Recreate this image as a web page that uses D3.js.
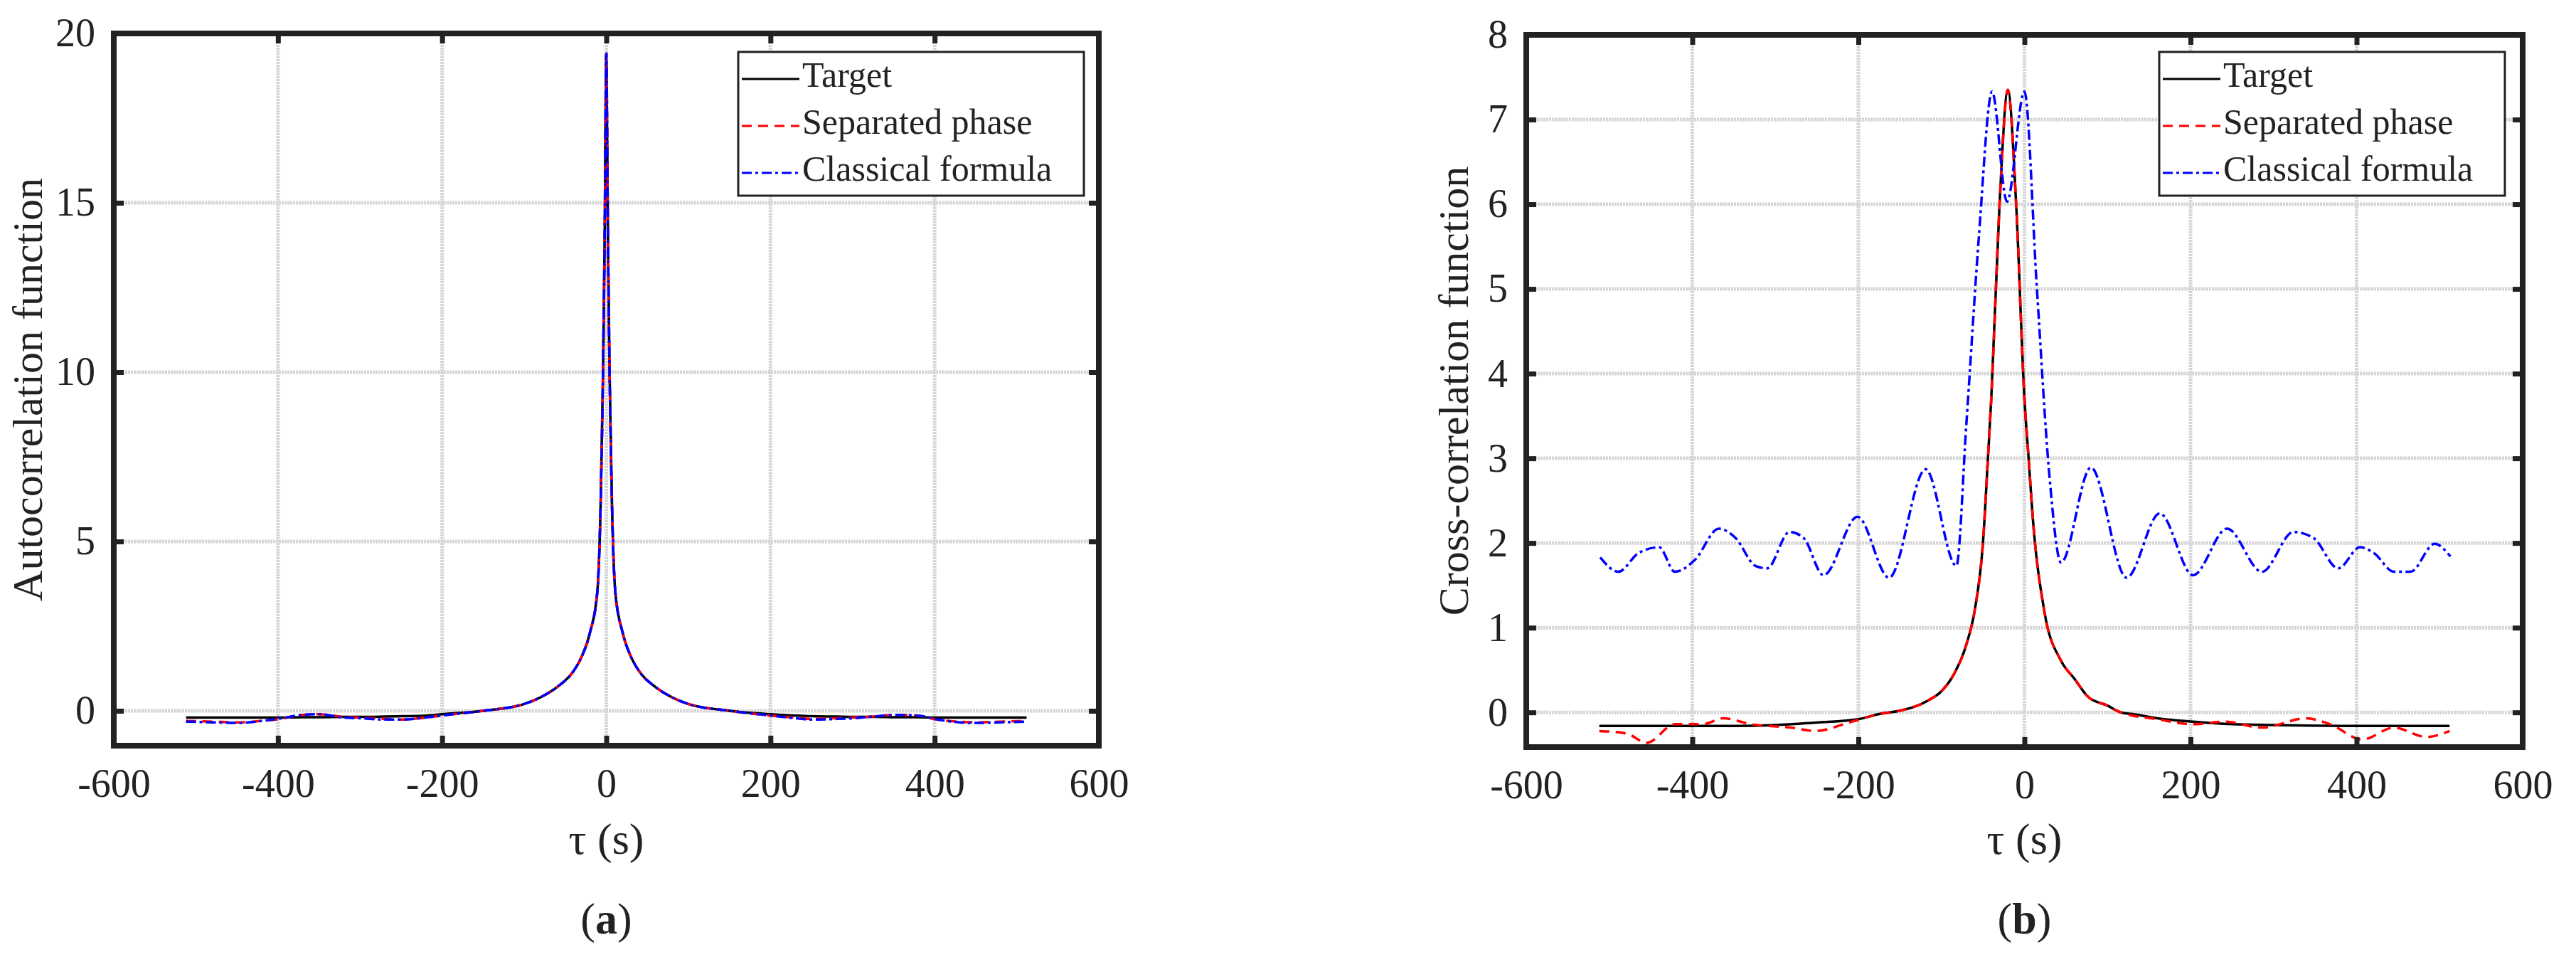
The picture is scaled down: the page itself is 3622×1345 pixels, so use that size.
<!DOCTYPE html>
<html>
<head>
<meta charset="utf-8">
<script src="https://cdn.jsdelivr.net/npm/d3@7"></script>
<style>
body { margin: 0; background: #fff; }
text { font-family: "Liberation Serif", "Times New Roman", serif; fill: #222; }
</style>
</head>
<body>
<svg width="3622" height="1345"></svg>
<script>
// ---- data ----
// (a) autocorrelation
const tauA = [-512, -480, -450, -420, -400, -370, -350, -320, -300, -270, -250, -220, -200, -150, -100, -80, -60, -40, -30, -20, -11, -7, -4, -2, 0,
              2, 4, 7, 11, 20, 30, 40, 60, 80, 100, 150, 200, 230, 250, 280, 300, 330, 350, 380, 400, 430, 450, 480, 512];
const targetA = [-0.2, -0.2, -0.2, -0.2, -0.2, -0.19, -0.19, -0.18, -0.18, -0.17, -0.16, -0.14, -0.1, 0.0, 0.2, 0.4, 0.7, 1.17, 1.6, 2.3, 3.5, 6, 10, 14, 19.4,
                 14, 10, 6, 3.5, 2.3, 1.6, 1.17, 0.7, 0.4, 0.2, 0.0, -0.1, -0.14, -0.16, -0.17, -0.18, -0.18, -0.19, -0.19, -0.2, -0.2, -0.2, -0.2, -0.2];
const sepA = [-0.3, -0.32, -0.34, -0.3, -0.25, -0.12, -0.1, -0.18, -0.2, -0.24, -0.26, -0.2, -0.14, 0.0, 0.2, 0.4, 0.7, 1.17, 1.6, 2.3, 3.5, 6, 10, 14, 19.4,
              14, 10, 6, 3.5, 2.3, 1.6, 1.17, 0.7, 0.4, 0.2, 0.0, -0.14, -0.2, -0.24, -0.22, -0.2, -0.16, -0.12, -0.14, -0.25, -0.32, -0.34, -0.32, -0.3];
const classA = [-0.32, -0.34, -0.36, -0.3, -0.24, -0.12, -0.1, -0.2, -0.22, -0.26, -0.26, -0.2, -0.14, 0.0, 0.2, 0.4, 0.7, 1.17, 1.6, 2.3, 3.5, 6, 10, 14, 19.4,
                14, 10, 6, 3.5, 2.3, 1.6, 1.17, 0.7, 0.4, 0.2, 0.0, -0.14, -0.22, -0.26, -0.24, -0.22, -0.16, -0.12, -0.14, -0.24, -0.34, -0.36, -0.34, -0.32];

// (b) cross-correlation
const tauBT = [-512, -400, -350, -300, -250, -200, -175, -150, -116, -100, -85, -70, -60, -50, -44, -40, -30, -20, -10, 0, 5, 10, 24, 44, 60, 77, 100, 116, 130, 160, 203, 250, 300, 400, 512];
const targetB = [-0.16, -0.16, -0.16, -0.15, -0.12, -0.08, -0.02, 0.02, 0.14, 0.25, 0.45, 0.8, 1.2, 2.0, 3.0, 3.7, 6.0, 7.35, 6.0, 3.7, 3.0, 2.3, 1.19, 0.61, 0.4, 0.18, 0.08, 0.0, -0.02, -0.07, -0.11, -0.14, -0.15, -0.16, -0.16];
const tauBS = [-512, -479, -455, -421, -387, -363, -329, -281, -252, -208, -175, -150, -116, -100, -85, -70, -60, -50, -44, -40, -30, -20, -10, 0, 5, 10, 24, 44, 60, 77, 100, 116, 160,
               203, 242, 286, 339, 368, 407, 445, 484, 512];
const sepB = [-0.22, -0.25, -0.36, -0.14, -0.14, -0.07, -0.14, -0.18, -0.22, -0.11, -0.02, 0.02, 0.14, 0.25, 0.45, 0.8, 1.2, 2.0, 3.0, 3.7, 6.0, 7.35, 6.0, 3.7, 3.0, 2.3, 1.19, 0.61, 0.4, 0.18, 0.08, 0.0, -0.08,
              -0.14, -0.11, -0.18, -0.07, -0.14, -0.32, -0.18, -0.29, -0.22];
const tauBC = [-511, -489, -465, -440, -421, -397, -368, -348, -324, -310, -283, -266, -242, -201, -163, -119, -82, -70, -55, -39, -21, 0, 15, 30, 44,
               80, 123, 163, 203, 244, 286, 324, 348, 378, 404, 421, 445, 465, 494, 513];
const classB = [1.83, 1.66, 1.88, 1.95, 1.66, 1.8, 2.17, 2.06, 1.73, 1.7, 2.13, 2.06, 1.62, 2.31, 1.59, 2.87, 1.73, 3.4, 5.6, 7.33, 6.03, 7.33, 5.0, 2.8, 1.77,
                2.89, 1.59, 2.35, 1.62, 2.17, 1.66, 2.13, 2.06, 1.7, 1.95, 1.88, 1.66, 1.66, 1.99, 1.84];

const xTicks = [-600, -400, -200, 0, 200, 400, 600];
const legendNames = ["Target", "Separated phase", "Classical formula"];

const styles = [
  { color: "#000", dash: null },
  { color: "#ff0000", dash: "14,9" },
  { color: "#0000ff", dash: "14,5,4,5" }
];

const svg = d3.select("svg");

function panel({ left, right, top, bottom, yDomain, yTicks, yLabel, yLabelX, tag, series, legendX }) {
  const x = d3.scaleLinear([-600, 600], [left, right]);
  const y = d3.scaleLinear(yDomain, [bottom, top]);
  const g = svg.append("g");

  // grid
  g.append("g").selectAll("line").data(xTicks.slice(1, -1)).join("line")
    .attr("x1", d => x(d)).attr("x2", d => x(d)).attr("y1", top).attr("y2", bottom)
    .attr("stroke", "#d6d6d6").attr("stroke-width", 5).attr("stroke-dasharray", "3,1");
  g.append("g").selectAll("line").data(yTicks.filter(d => y(d) > top + 2)).join("line")
    .attr("y1", d => y(d)).attr("y2", d => y(d)).attr("x1", left).attr("x2", right)
    .attr("stroke", "#d6d6d6").attr("stroke-width", 5).attr("stroke-dasharray", "3,1");

  // curves
  const line = d3.line().x(d => x(d[0])).y(d => y(d[1])).curve(d3.curveMonotoneX);
  series.forEach((s, i) => {
    g.append("path")
      .datum(d3.zip(s.tau, s.values))
      .attr("d", line)
      .attr("fill", "none")
      .attr("stroke", styles[i].color)
      .attr("stroke-width", 3.5)
      .attr("stroke-dasharray", styles[i].dash);
  });

  // axes (inward ticks on all sides)
  const tick = 14;
  g.append("g").attr("transform", `translate(0,${bottom})`)
    .call(d3.axisBottom(x).tickValues(xTicks).tickSize(-tick).tickPadding(32).tickFormat(d => String(d)));
  g.append("g").attr("transform", `translate(0,${top})`)
    .call(d3.axisTop(x).tickValues(xTicks).tickSize(-tick).tickFormat(""));
  g.append("g").attr("transform", `translate(${left},0)`)
    .call(d3.axisLeft(y).tickValues(yTicks).tickSize(-tick).tickPadding(26).tickFormat(d => String(d)));
  g.append("g").attr("transform", `translate(${right},0)`)
    .call(d3.axisRight(y).tickValues(yTicks).tickSize(-tick).tickFormat(""));
  g.selectAll(".domain").remove();
  g.selectAll(".tick line").attr("stroke", "#222").attr("stroke-width", 7);
  g.selectAll(".tick text").attr("font-size", 56).attr("fill", "#222")
    .attr("font-family", "Liberation Serif");

  g.append("rect").attr("x", left).attr("y", top).attr("width", right - left).attr("height", bottom - top)
    .attr("fill", "none").attr("stroke", "#222").attr("stroke-width", 8);

  // labels
  g.append("text").attr("transform", `translate(${yLabelX},${(top + bottom) / 2}) rotate(-90)`)
    .attr("text-anchor", "middle").attr("dominant-baseline", "middle").attr("font-size", 60).text(yLabel);
  g.append("text").attr("x", (left + right) / 2).attr("y", 1200).attr("text-anchor", "middle")
    .attr("font-size", 62).text("τ (s)");
  const t = g.append("text").attr("x", (left + right) / 2).attr("y", 1312).attr("text-anchor", "middle").attr("font-size", 62);
  t.append("tspan").text("(");
  t.append("tspan").attr("font-weight", "bold").text(tag);
  t.append("tspan").text(")");

  // legend
  const lg = g.append("g").attr("transform", `translate(${legendX},73)`);
  lg.append("rect").attr("width", 486).attr("height", 202).attr("fill", "#fff").attr("stroke", "#222").attr("stroke-width", 3);
  legendNames.forEach((name, i) => {
    const yy = 38 + i * 66;
    lg.append("line").attr("x1", 5).attr("x2", 86).attr("y1", yy).attr("y2", yy)
      .attr("stroke", styles[i].color).attr("stroke-width", 3).attr("stroke-dasharray", styles[i].dash);
    lg.append("text").attr("x", 90).attr("y", yy).attr("dominant-baseline", "middle")
      .attr("font-size", 50).text(name);
  });
}

panel({
  left: 160, right: 1545, top: 47, bottom: 1048, yDomain: [-1.03, 20], yTicks: [0, 5, 10, 15, 20],
  yLabel: "Autocorrelation function", yLabelX: 45, tag: "a", legendX: 1038,
  series: [{ tau: tauA, values: targetA }, { tau: tauA, values: sepA }, { tau: tauA, values: classA }]
});
panel({
  left: 2146, right: 3547, top: 49, bottom: 1050, yDomain: [-0.41, 8], yTicks: [0, 1, 2, 3, 4, 5, 6, 7, 8],
  yLabel: "Cross-correlation function", yLabelX: 2050, tag: "b", legendX: 3036,
  series: [{ tau: tauBT, values: targetB }, { tau: tauBS, values: sepB }, { tau: tauBC, values: classB }]
});
</script>
</body>
</html>
